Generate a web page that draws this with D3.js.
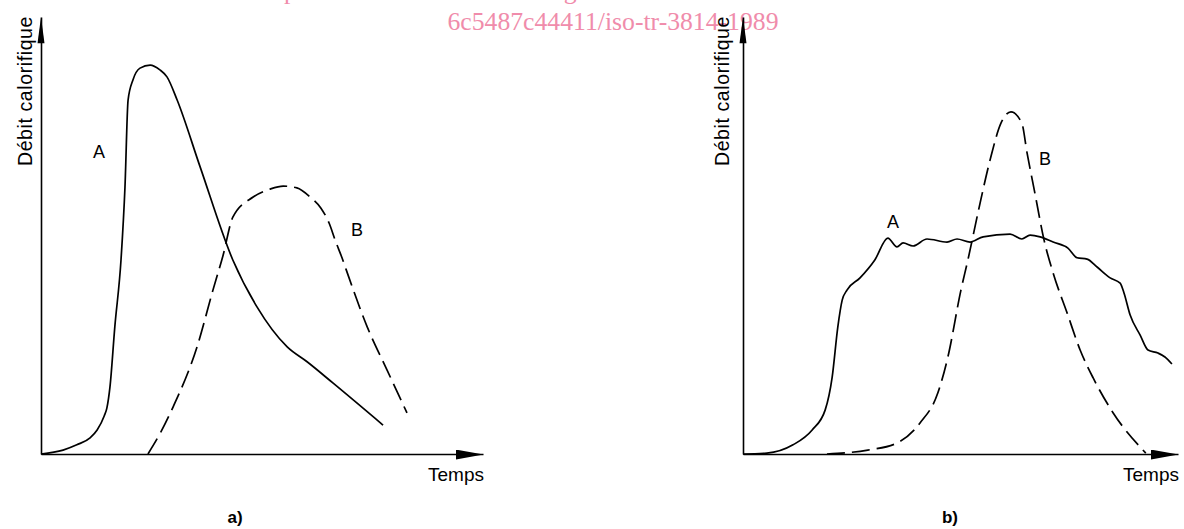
<!DOCTYPE html>
<html>
<head>
<meta charset="utf-8">
<script src="https://cdn.jsdelivr.net/npm/d3@7"></script>
<style>
  body { margin: 0; background: #fff; }
  svg { display: block; }
</style>
</head>
<body>
<div id="chart-container"></div>
<script>
// Curves: [time, heat release], both in 0..100 of each axis
const curveA_a = [
  [0, 0], [5.0, 0.9], [8.1, 2.1], [11.1, 3.7], [12.7, 5.5], [14.3, 8.7], [14.9, 10.5],
  [15.6, 15.3], [16.7, 29.1], [18.1, 44.4], [19.0, 61.1], [19.7, 81.0], [20.8, 85.6],
  [22.4, 88.3], [24.7, 89.0], [26.9, 87.9], [28.5, 86.3], [30.8, 81.0], [36.0, 65.7],
  [43.4, 44.4], [48.9, 33.6], [55.7, 24.5], [60.2, 21.1], [66.1, 16.2], [77.4, 6.6]
];
const curveB_a = [
  [24.2, 0], [27.1, 5.0], [29.9, 10.8], [35.3, 24.5], [38.9, 37.5], [41.2, 45.5],
  [43.4, 54.2], [48.0, 58.8], [51.8, 60.6], [54.8, 61.3], [57.9, 60.9], [60.9, 58.8],
  [63.3, 56.3], [65.2, 52.8], [66.6, 48.8], [68.1, 44.9], [69.0, 42.3], [73.8, 29.1],
  [78.3, 19.2], [82.8, 9.4]
];
const curveA_b = [
  [0, 0], [5.5, 0.2], [11.5, 2.1], [15.9, 5.5], [18.9, 10.1], [20.5, 17.6], [21.8, 29.1],
  [22.8, 35.2], [23.9, 37.5], [26.9, 40.3], [30.3, 44.4], [33.3, 49.4], [35.4, 47.4],
  [36.8, 48.3], [39.1, 47.6], [42.3, 49.2], [46.9, 48.5], [49.2, 49.2], [52.2, 48.5],
  [55.2, 49.7], [61.4, 50.3], [64.1, 49.2], [66.0, 50.1], [68.3, 49.7], [71.3, 48.5],
  [74.7, 47.1], [76.8, 44.9], [79.1, 44.6], [81.4, 42.8], [84.4, 40.3], [86.7, 39.1],
  [87.6, 36.8], [89.0, 31.8], [91.3, 27.2], [93.1, 23.8], [95.4, 23.1], [97.0, 22.2],
  [98.6, 20.6]
];
const curveB_b = [
  [19.3, 0], [28.7, 0.9], [35.4, 2.5], [40.7, 7.1], [44.8, 14.0], [47.1, 22.2],
  [50.1, 37.5], [51.7, 44.4], [54.3, 56.5], [56.8, 67.3], [59.3, 75.7], [61.6, 78.3],
  [64.1, 75.7], [65.3, 68.9], [67.1, 59.7], [69.2, 49.0], [71.3, 41.4], [74.5, 32.3],
  [77.5, 23.8], [80.5, 17.4], [85.1, 9.4], [92.6, 0.2]
];

const yLabel = "Débit calorifique";
const xLabel = "Temps";
const panelLabels = ["a)", "b)"];
const curveNames = ["A", "B"];

const width = 1184;
const height = 529;

const svg = d3.select("#chart-container")
  .append("svg")
  .attr("width", width)
  .attr("height", height)
  .style("font-family", "'Liberation Sans', Arial, sans-serif");

// arrow head for the time axes
const defs = svg.append("defs");
defs.append("marker")
  .attr("id", "arrowX")
  .attr("viewBox", "0 0 28 10")
  .attr("refX", 28)
  .attr("refY", 5)
  .attr("markerUnits", "userSpaceOnUse")
  .attr("markerWidth", 28)
  .attr("markerHeight", 10)
  .attr("orient", "auto")
  .append("path")
  .attr("d", "M0,0L28,5L0,10Z")
  .attr("fill", "#000");

// watermark (the first line is mostly cut off by the top edge)
svg.append("text")
  .attr("x", 257)
  .attr("y", -1)
  .style("font-family", "'Liberation Serif', 'Times New Roman', serif")
  .style("font-size", "25.7px")
  .attr("fill", "#f08cab")
  .text("https://standards.iteh.ai/catalog/standards/sist/");

svg.append("text")
  .attr("x", 613)
  .attr("y", 30)
  .attr("text-anchor", "middle")
  .style("font-family", "'Liberation Serif', 'Times New Roman', serif")
  .style("font-size", "25.7px")
  .attr("fill", "#f08cab")
  .text("6c5487c44411/iso-tr-3814-1989");

const panels = [
  { x0: 41, x1: 483, labelX: 25, dataA: curveA_a, dataB: curveB_a, posA: [13.1, 67.7], posB: [71.5, 50], caption: 235 },
  { x0: 743, x1: 1178, labelX: 722, dataA: curveA_b, dataB: curveB_b, posA: [34.5, 51.7], posB: [69.4, 66.1], caption: 950 }
];

panels.forEach((p, i) => {
  const x = d3.scaleLinear().domain([0, 100]).range([p.x0, p.x1]);
  const y = d3.scaleLinear().domain([0, 100]).range([454, 17]);

  const line = d3.line()
    .x(d => x(d[0]))
    .y(d => y(d[1]))
    .curve(d3.curveMonotoneX);

  // time axis with arrow
  const gx = svg.append("g")
    .attr("transform", `translate(0,${y(0)})`)
    .call(d3.axisBottom(x).tickValues([]).tickSizeOuter(0));
  gx.select(".domain")
    .attr("stroke", "#000")
    .attr("stroke-width", 1.6)
    .attr("marker-end", "url(#arrowX)");

  // heat release axis with arrow
  const gy = svg.append("g")
    .attr("transform", `translate(${x(0)},0)`)
    .call(d3.axisLeft(y).tickValues([]).tickSizeOuter(0));
  gy.select(".domain")
    .attr("stroke", "#000")
    .attr("stroke-width", 1.6);
  gy.append("path")
    .attr("d", `M-3.5,${y(94)}L0,${y(100)}L3.5,${y(94)}Z`)
    .attr("fill", "#000");

  // curves
  svg.append("path")
    .datum(p.dataA)
    .attr("fill", "none")
    .attr("stroke", "#000")
    .attr("stroke-width", 1.7)
    .attr("d", line);

  svg.append("path")
    .datum(p.dataB)
    .attr("fill", "none")
    .attr("stroke", "#000")
    .attr("stroke-width", 1.7)
    .attr("stroke-dasharray", "18,7")
    .attr("d", line);

  // curve labels
  svg.append("text")
    .attr("x", x(p.posA[0]))
    .attr("y", y(p.posA[1]))
    .attr("text-anchor", "middle")
    .style("font-size", "18px")
    .text(curveNames[0]);
  svg.append("text")
    .attr("x", x(p.posB[0]))
    .attr("y", y(p.posB[1]))
    .attr("text-anchor", "middle")
    .style("font-size", "18px")
    .text(curveNames[1]);

  // axis titles
  svg.append("text")
    .attr("transform", `translate(${p.labelX + 7},${16}) rotate(-90)`)
    .attr("text-anchor", "end")
    .style("font-size", "19.5px")
    .style("letter-spacing", "0.6px")
    .text(yLabel);

  svg.append("text")
    .attr("x", p.x1 + 1)
    .attr("y", 481)
    .attr("text-anchor", "end")
    .style("font-size", "19px")
    .text(xLabel);

  // panel caption
  svg.append("text")
    .attr("x", p.caption)
    .attr("y", 523)
    .attr("text-anchor", "middle")
    .style("font-size", "17px")
    .style("font-weight", "bold")
    .text(panelLabels[i]);
});
</script>
</body>
</html>
